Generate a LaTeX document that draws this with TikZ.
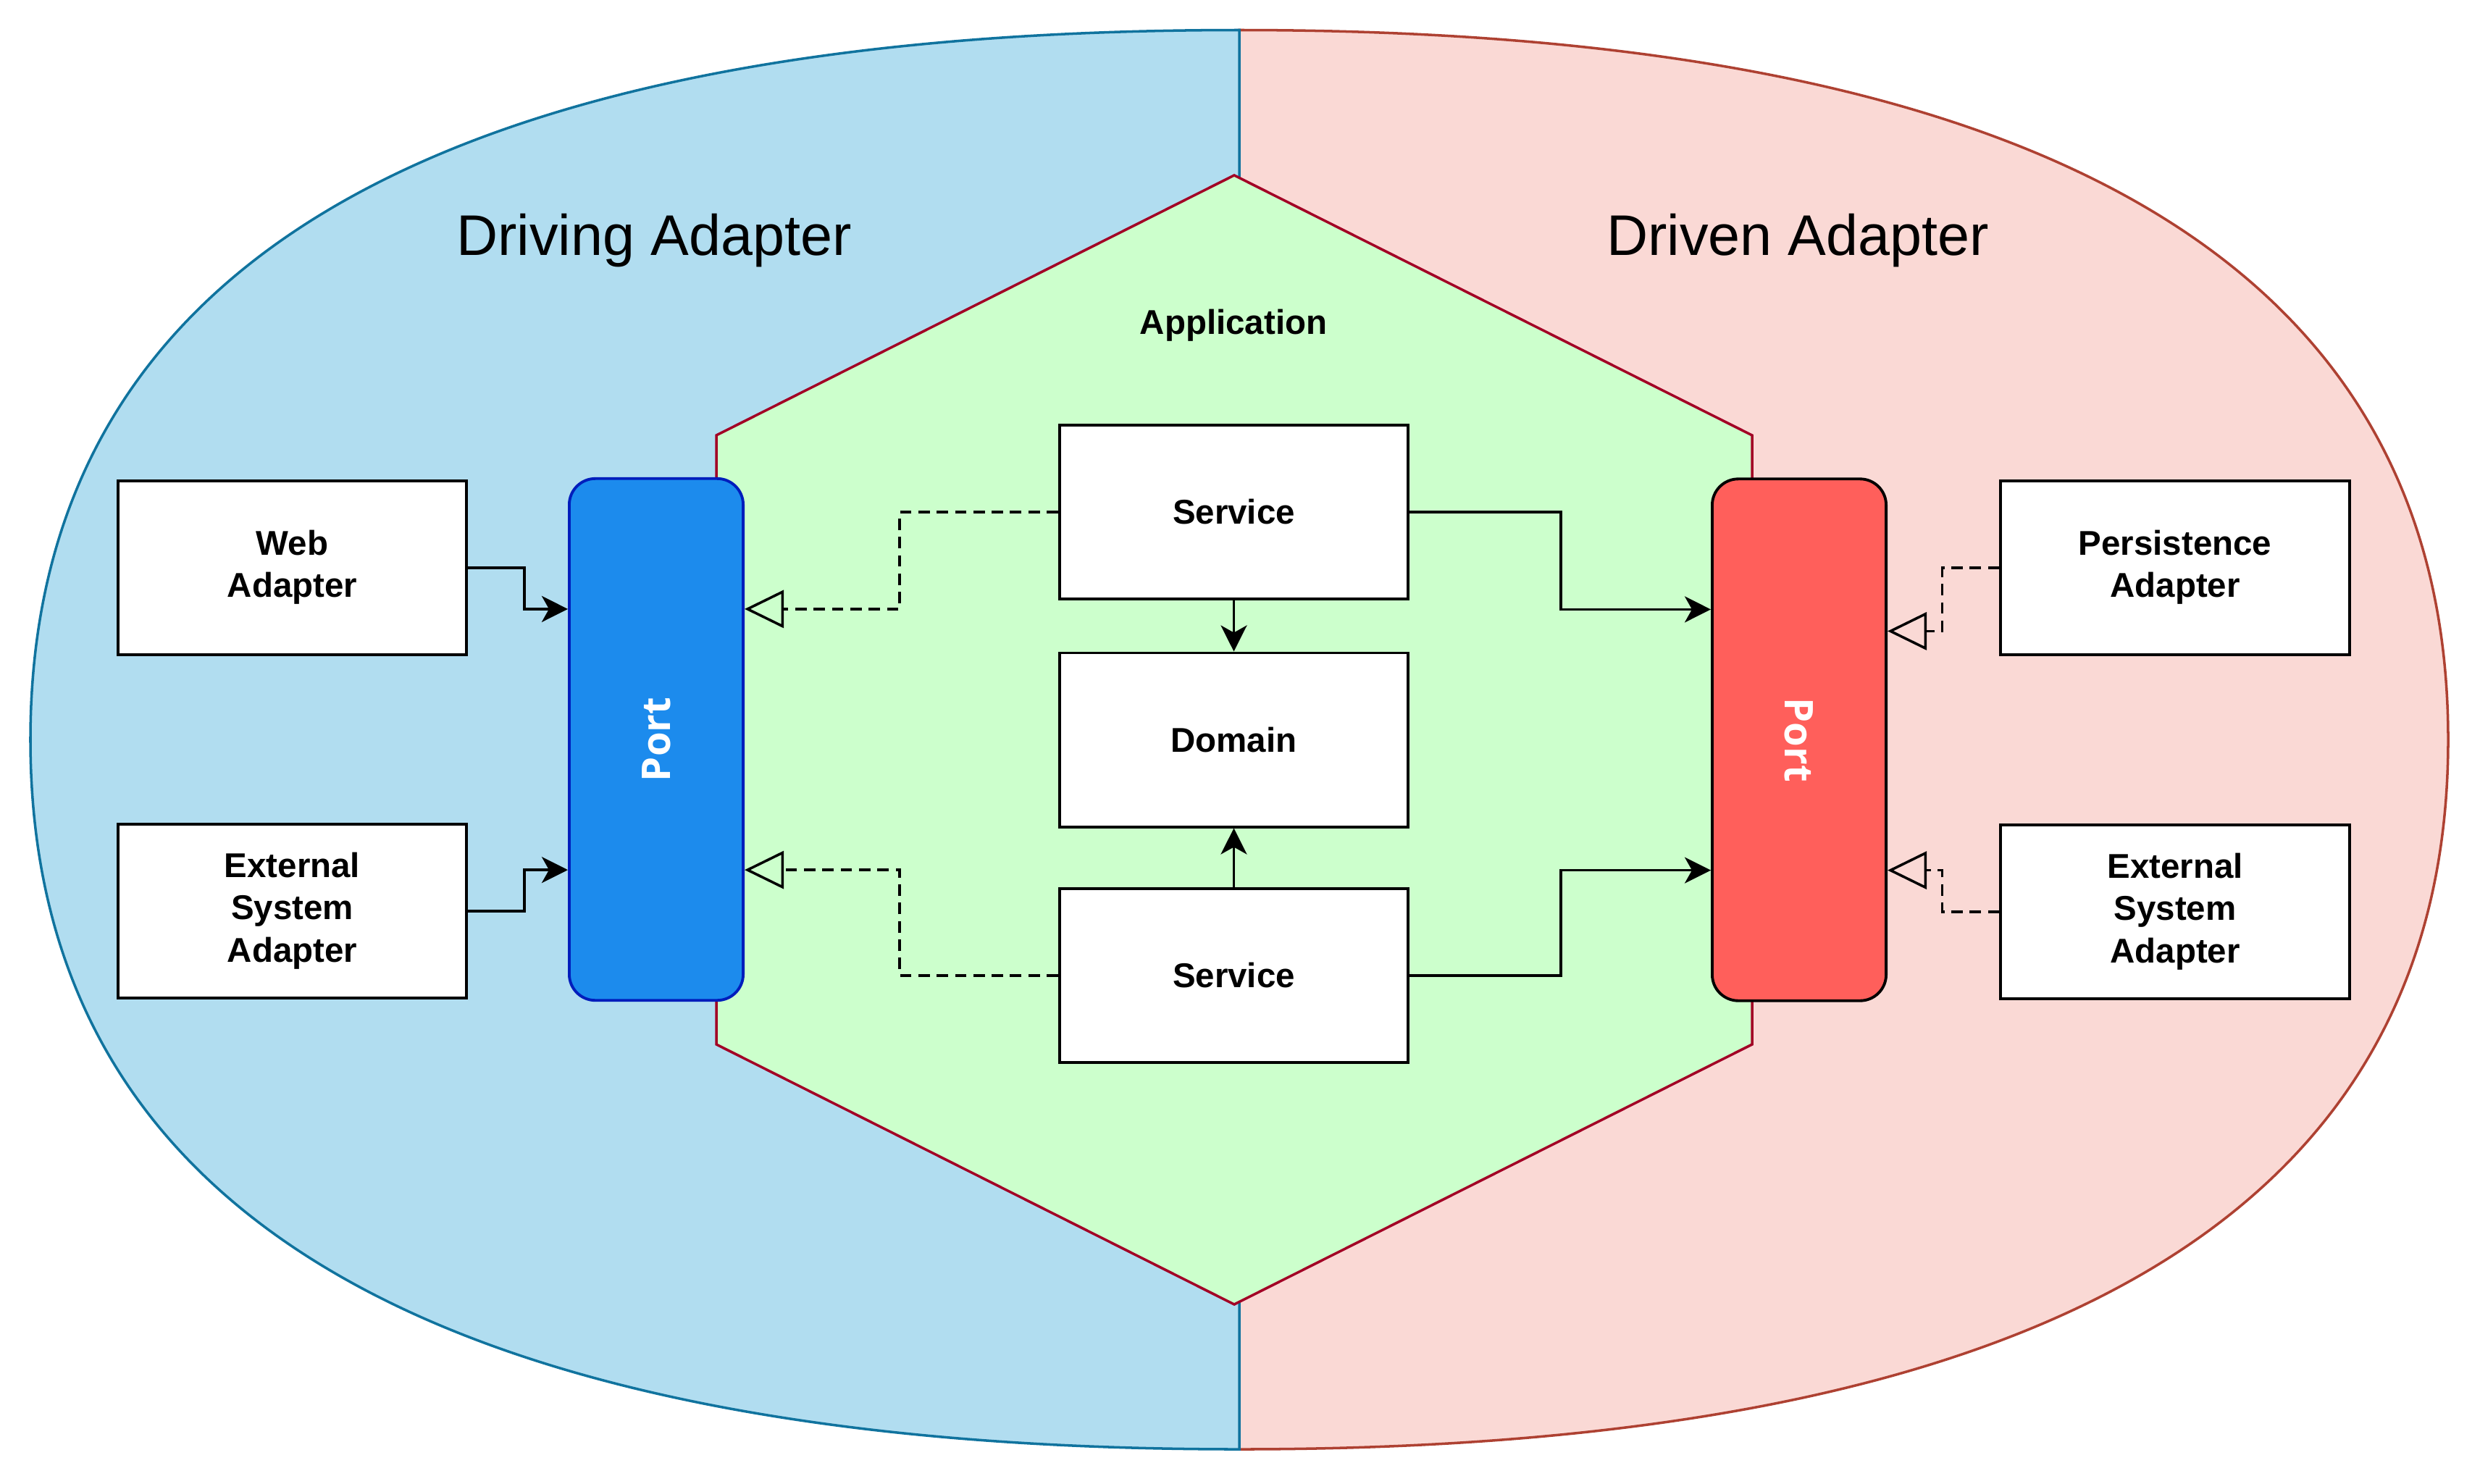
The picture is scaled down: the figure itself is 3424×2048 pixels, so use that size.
\documentclass[tikz,border=0pt]{standalone}
\usepackage{fontspec}
\setmainfont{Liberation Sans}
\newfontfamily\portfont{Open Sans}
\usetikzlibrary{arrows.meta,calc}
\definecolor{blueFill}{HTML}{B1DDF0}
\definecolor{blueStroke}{HTML}{10739E}
\definecolor{redFill}{HTML}{FAD9D5}
\definecolor{redStroke}{HTML}{AE4132}
\definecolor{hexFill}{HTML}{CCFFCC}
\definecolor{hexStroke}{HTML}{A20025}
\definecolor{portBlue}{HTML}{1C8BED}
\definecolor{portBlueStroke}{HTML}{001DBC}
\definecolor{portRed}{HTML}{FF5F5B}
\begin{document}
\begin{tikzpicture}[x=0.01cm,y=-0.01cm,
  box/.style={draw=black, line width=1.1pt, fill=white, minimum width=4.81cm, minimum height=2.4cm,
    inner sep=0pt, align=center, font=\fontsize{13.5}{16.6}\selectfont\bfseries},
  portbox/.style={line width=1.1pt, rounded corners=0.36cm, minimum width=2.4cm, minimum height=7.2cm, inner sep=0pt},
  porttext/.style={text=white, font=\portfont\bfseries\fontsize{15.5}{18}\selectfont},
  conn/.style={line width=1pt, -{Stealth[length=0.36cm,width=0.36cm,inset=0.1cm]}},
  realize/.style={line width=1pt, dash pattern=on 4.5pt off 2.7pt, -{Triangle[open,length=0.54cm,width=0.52cm]}},
  title/.style={font=\fontsize{22.5}{27}\selectfont, anchor=base},
  apptitle/.style={font=\fontsize{13.5}{16.5}\selectfont\bfseries, anchor=base},
  outline/.style={line width=1pt}
]
\useasboundingbox (0,0) rectangle (3424,2048);

% outer halves
\path[outline, draw=redStroke, fill=redFill] (1711,41.5) .. controls (2823.7,41.5) and (3380,368) .. (3380,1021.25)
  .. controls (3380,1674.5) and (2823.7,2001) .. (1711,2001) -- cycle;
\path[outline, draw=blueStroke, fill=blueFill] (1711,41.5) .. controls (598.3,41.5) and (42,368) .. (42,1021.25)
  .. controls (42,1674.5) and (598.3,2001) .. (1711,2001) -- cycle;

% hexagon
\path[outline, draw=hexStroke, fill=hexFill] (1704,242) -- (2419,601) -- (2419,1442) -- (1704,1801)
  -- (989,1442) -- (989,601) -- cycle;

% titles
\node[title] (tDriving) at (903,352) {Driving Adapter};
\node[title] (tDriven) at (2482,352) {Driven Adapter};
\node[apptitle] (tApp) at (1703,461) {Application};

% boxes
\node[box] (web) at (403.5,784) {\raisebox{-0.8pt}{\begin{tabular}{@{}c@{}}Web\\Adapter\end{tabular}}};
\node[box] (extL) at (403.5,1258) {\raisebox{-0.8pt}{\begin{tabular}{@{}c@{}}External\\System\\Adapter\end{tabular}}};
\node[box] (svcT) at (1703.5,707) {Service};
\node[box] (dom) at (1703.5,1021.5) {Domain};
\node[box] (svcB) at (1703.5,1347) {Service};
\node[box] (pers) at (3003,784) {\raisebox{-0.8pt}{\begin{tabular}{@{}c@{}}Persistence\\Adapter\end{tabular}}};
\node[box] (extR) at (3003,1259) {\raisebox{-0.8pt}{\begin{tabular}{@{}c@{}}External\\System\\Adapter\end{tabular}}};

% ports
\node[portbox, draw=portBlueStroke, fill=portBlue, label={[porttext, rotate=90]center:Port}] (portL) at (906,1021) {};
\node[portbox, draw=black, fill=portRed, label={[porttext, rotate=-90]center:Port}] (portR) at (2484,1021.5) {};

% driving connectors
\draw[conn] (web.east) -- ++(78,0) |- ([yshift=1.8cm]portL.west);
\draw[conn] (extL.east) -- ++(78,0) |- ([yshift=-1.8cm]portL.west);

% services implement driving ports
\draw[realize] (svcT.west) -- ++(-219,0) |- ([yshift=1.8cm]portL.east);
\draw[realize] (svcB.west) -- ++(-219,0) |- ([yshift=-1.8cm]portL.east);

% services use driven ports
\draw[conn] (svcT.east) -- ++(209,0) |- ([yshift=1.8cm]portR.west);
\draw[conn] (svcB.east) -- ++(209,0) |- ([yshift=-1.8cm]portR.west);

% services to domain
\draw[conn] (svcT.south) -- (dom.north);
\draw[conn] (svcB.north) -- (dom.south);

% driven adapters implement driven ports
\draw[realize] (pers.west) -- ++(-79,0) |- ([yshift=1.5cm]portR.east);
\draw[realize] (extR.west) -- ++(-79,0) |- ([yshift=-1.8cm]portR.east);
\end{tikzpicture}
\end{document}
